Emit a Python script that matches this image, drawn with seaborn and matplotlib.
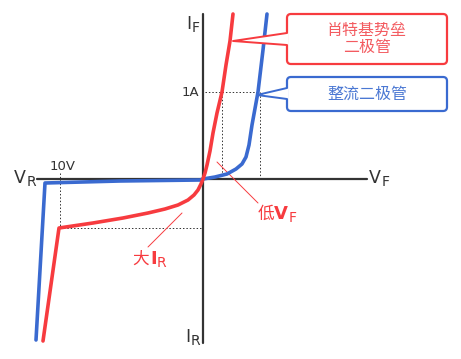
import pandas as pd
import seaborn as sns
import matplotlib.pyplot as plt
from matplotlib.patches import FancyBboxPatch, Polygon

sns.set_theme(style="white")
plt.rcParams['font.family'] = ['Noto Sans CJK SC', 'DejaVu Sans']

RED = '#f73b3f'
BLUE = '#3a6ad0'
RED_TXT = '#f35b60'
BLUE_TXT = '#4b78d3'
DARK = '#333333'
LATIN = ['DejaVu Sans']

# Schottky diode curve (V, I) in sketch units, origin at axis crossing
schottky_v = [-160, -144, -110, -80, -55, -38, -25, -15, -9, -5, -2, 0, 2, 4, 7, 10, 14, 19, 23, 27, 30]
schottky_i = [-162, -49, -44, -39, -34, -30, -26, -21, -16, -11, -5, 0, 6, 14, 28, 46, 66, 87, 114, 138, 165]

# rectifier diode curve
rect_v = [-167, -158, -83, -3, 0, 12, 24, 33, 39, 43, 46, 49, 55, 60, 64]
rect_i = [-161, -4, -2, -1, 0, 2, 5, 10, 15, 22, 34, 54, 87, 129, 165]

# reference points
one_amp = 87
schottky_vf = 19
rect_vf = 57
rev_10v = -143
schottky_ir = -49

df = pd.concat([
    pd.DataFrame({'V': rect_v, 'I': rect_i, 'diode': '整流二极管'}),
    pd.DataFrame({'V': schottky_v, 'I': schottky_i, 'diode': '肖特基势垒二极管'}),
])

fig = plt.figure(figsize=(4.61, 3.59), dpi=100)
ax = fig.add_axes([0, 0, 1, 1])
ax.set_xlim(-203, 258)
ax.set_ylim(-180, 179)
ax.axis('off')

# axes
ax.plot([-166, 164], [0, 0], color=DARK, lw=1.6, zorder=1)
ax.plot([0, 0], [-164, 165], color=DARK, lw=1.6, zorder=1)

# dotted guides
dot = dict(color=DARK, lw=0.7, ls=(0, (1.5, 2)), zorder=1)
ax.plot([2, rect_vf], [one_amp, one_amp], **dot)
ax.plot([schottky_vf, schottky_vf], [0, one_amp], **dot)
ax.plot([rect_vf, rect_vf], [0, one_amp], **dot)
ax.plot([rev_10v, rev_10v], [6, schottky_ir], **dot)
ax.plot([rev_10v, 0], [schottky_ir, schottky_ir], **dot)

sns.lineplot(data=df, x='V', y='I', hue='diode', units='diode', estimator=None,
             sort=False, palette={'整流二极管': BLUE, '肖特基势垒二极管': RED},
             lw=2.6, legend=False, ax=ax, zorder=3)


def sub_label(x, y, main, sub, color, size=12.5, subsize=10, weight='normal'):
    t = ax.text(x, y, main, color=color, fontsize=size, ha='left', va='center',
                fontweight=weight, family=LATIN)
    fig.canvas.draw()
    bb = t.get_window_extent().transformed(ax.transData.inverted())
    ax.text(bb.x1 + 0.3, y - 4, sub, color=color, fontsize=subsize, ha='left', va='center',
            family=LATIN)


sub_label(-189, 1, 'V', 'R', DARK)
sub_label(166, 1, 'V', 'F', DARK)
sub_label(-17, 155, 'I', 'F', DARK)
sub_label(-18, -158, 'I', 'R', DARK)

ax.text(-4, one_amp, '1A', color=DARK, fontsize=9.5, ha='right', va='center', family=LATIN)
ax.text(-140, 12, '10V', color=DARK, fontsize=9.5, ha='center', va='center', family=LATIN)

# annotation lines
ax.plot([14, 55], [17, -24], color=RED, lw=0.7, zorder=2)
ax.plot([-55, -21], [-68, -34], color=RED, lw=0.7, zorder=2)
ax.text(55, -35, '低', color=RED, fontsize=12, ha='left', va='center')
sub_label(71, -35, 'V', 'F', RED, size=13, weight='bold')
ax.text(-71, -80, '大', color=RED, fontsize=12, ha='left', va='center')
sub_label(-53, -80, 'I', 'R', RED, size=13, weight='bold')


def callout(x0, y0, x1, y1, b_hi, b_lo, tip, color, tcolor, text):
    ax.add_patch(FancyBboxPatch((x0, y0), x1 - x0, y1 - y0,
                                boxstyle='round,pad=0,rounding_size=4',
                                fc='white', ec=color, lw=1.6, zorder=4))
    ax.add_patch(Polygon([(x0 + 1.5, b_hi), tip, (x0 + 1.5, b_lo)], closed=True,
                         fc='white', ec='none', zorder=5))
    ax.plot([x0, tip[0], x0], [b_hi, tip[1], b_lo], color=color, lw=1.4, zorder=5)
    ax.text((x0 + x1) / 2, (y0 + y1) / 2, text, color=tcolor, fontsize=11.5,
            ha='center', va='center', linespacing=1.05, zorder=6)


callout(84, 115, 244, 165, 146, 134, (30, 138), RED, RED_TXT, '肖特基势垒\n二极管')
callout(84, 68, 244, 102, 91, 80, (54, 84), BLUE, BLUE_TXT, '整流二极管')

fig.savefig('out.png', dpi=100)
